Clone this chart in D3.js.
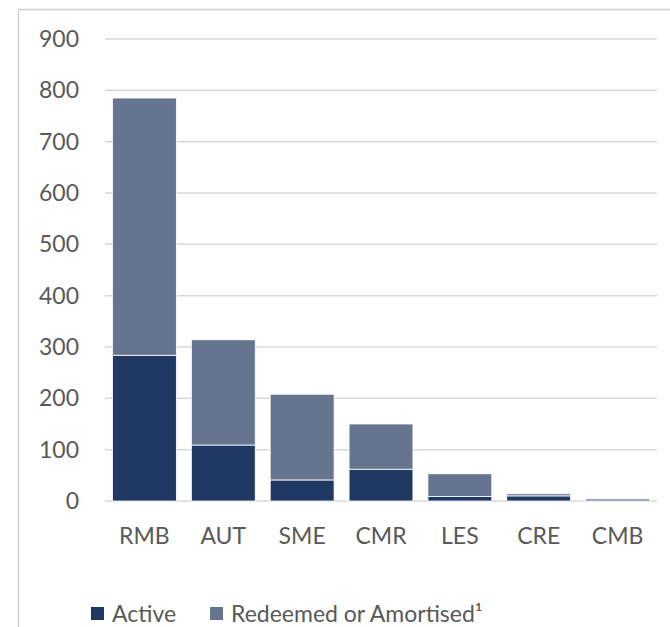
<!DOCTYPE html>
<html>
<head>
  <meta charset="UTF-8">
  <style>
    body { margin: 0; background: #fff; }
    text { font-family: Lato, "Open Sans", sans-serif; fill: #595959; }
  </style>
</head>
<body>
<svg></svg>
<script src="https://d3js.org/d3.v7.min.js"></script>
<script>
let width = 670, height = 627;

// data
let categories = ["RMB", "AUT", "SME", "CMR", "LES", "CRE", "CMB"];
let active = [284, 109, 41, 62, 9, 10, 0];
let redeemed = [501, 205, 167, 88, 44, 4, 4];
let yTicks = [0, 100, 200, 300, 400, 500, 600, 700, 800, 900];
let seriesNames = ["Active", "Redeemed or Amortised\u00B9"];
let colors = ["#203864", "#65748F"];

let svg = d3.select("svg")
    .attr("width", width)
    .attr("height", height);

// outer chart frame (runs off the right and bottom edge)
svg.append("rect")
    .attr("x", 18.5).attr("y", 9.5)
    .attr("width", 700).attr("height", 700)
    .attr("fill", "none")
    .attr("stroke", "#d0d0d0")
    .attr("stroke-width", 1.5);

let x = d3.scaleBand()
    .domain(categories)
    .range([105, 657])
    .paddingInner(0.19)
    .paddingOuter(0.095);

let y = d3.scaleLinear()
    .domain([0, 900])
    .range([501, 39]);

// gridlines
svg.append("g")
    .attr("id", "grid")
    .selectAll("line")
    .data(yTicks)
    .enter()
    .append("line")
    .attr("x1", 105).attr("x2", 657)
    .attr("y1", d => y(d)).attr("y2", d => y(d))
    .attr("stroke", "#d9d9d9")
    .attr("stroke-width", 1.5);

// y labels
svg.append("g")
    .selectAll("text")
    .data(yTicks)
    .enter()
    .append("text")
    .attr("x", 79)
    .attr("y", d => y(d))
    .attr("dy", "0.35em")
    .attr("text-anchor", "end")
    .style("font-size", "23px")
    .text(d => d);

// stacked bars
let rows = categories.map((c, i) => ({ cat: c, Active: active[i], Redeemed: redeemed[i] }));
let stacked = d3.stack().keys(["Active", "Redeemed"])(rows);

svg.append("g")
    .attr("id", "bars")
    .selectAll("g")
    .data(stacked)
    .enter()
    .append("g")
    .attr("fill", (d, i) => colors[i])
    .selectAll("rect")
    .data(d => d.filter(p => p[1] - p[0] > 0))
    .enter()
    .append("rect")
    .attr("x", d => x(d.data.cat))
    .attr("width", x.bandwidth())
    .attr("y", d => y(d[1]))
    .attr("height", d => y(d[0]) - y(d[1]))
    .attr("stroke", "#ffffff")
    .attr("stroke-width", 0.8);

// x labels
svg.append("g")
    .selectAll("text")
    .data(categories)
    .enter()
    .append("text")
    .attr("x", d => x(d) + x.bandwidth() / 2)
    .attr("y", 536)
    .attr("dy", "0.35em")
    .attr("text-anchor", "middle")
    .style("font-size", "23px")
    .text(d => d);

// legend
let legendX = [91, 210];
let legend = svg.append("g").attr("id", "legend");
seriesNames.forEach((name, i) => {
    legend.append("rect")
        .attr("x", legendX[i]).attr("y", 607)
        .attr("width", 13).attr("height", 13)
        .attr("fill", colors[i]);
    legend.append("text")
        .attr("x", legendX[i] + 21)
        .attr("y", 614)
        .attr("dy", "0.35em")
        .style("font-size", "23px")
        .text(name);
});
</script>
</body>
</html>
